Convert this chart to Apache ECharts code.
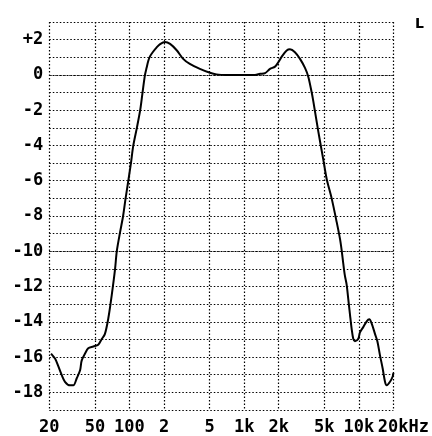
<!DOCTYPE html>
<html><head><meta charset="utf-8">
<script src="https://cdn.jsdelivr.net/npm/echarts@6/dist/echarts.min.js"></script>
<style>html,body{margin:0;padding:0;background:#fff}#c{width:432px;height:436px}</style>
</head><body><div id="c"></div>
<script>
const freqHz = [20.7,22.5,23.9,25.6,27.4,30.3,32.4,34.7,37.1,38.3,41,43.7,48.4,53.4,57,61,65.4,70,74.9,77.5,82.9,88,92.5,97.7,103,108,116,124,130,136.5,141,146,151,160,172,185,204,226,258,294,336,411,503,574,700,1000,1242,1376,1520,1680,1858,1986,2126,2348,2508,2772,3068,3390,3622,3880,4008,4427,4896,5240,5790,6408,6846,7080,7312,7560,7828,8080,8370,8650,8934,9240,9880,10220,10920,11700,12330,12940,13840,14490,15280,16140,16900,17480,18680,19720,20000];
const levelDb = [-15.8,-16.1,-16.5,-17.0,-17.4,-17.6,-17.6,-17.2,-16.75,-16.2,-15.8,-15.5,-15.4,-15.3,-15.0,-14.7,-13.8,-12.5,-11.0,-10.0,-8.9,-8.0,-7.0,-6.0,-5.0,-4.0,-3.0,-2.0,-1.0,0,0.4,0.8,1.05,1.3,1.55,1.75,1.87,1.76,1.4,0.91,0.62,0.34,0.12,0.03,0,0,0,0.06,0.1,0.34,0.47,0.72,1.04,1.38,1.45,1.29,0.91,0.4,-0.1,-1.0,-1.5,-3.2,-4.8,-5.9,-7.0,-8.35,-9.3,-9.95,-10.7,-11.4,-11.9,-12.7,-13.6,-14.4,-14.96,-15.1,-14.96,-14.6,-14.3,-13.97,-13.86,-14.1,-14.7,-15.1,-15.9,-16.66,-17.4,-17.6,-17.4,-17.1,-16.9];
const xTickValues = [20,50,100,200,500,1000,2000,5000,10000,20000];
const xTickLabels = ['20','50','100','2','5','1k','2k','5k','10k','20kHz'];
const refLinesDb = [0,-10];
const channelLabel = 'L';

const chart = echarts.init(document.getElementById('c'), null, {renderer:'canvas'});
const labelFont = {fontFamily:'DejaVu Sans Mono', fontWeight:'bold', fontSize:17, color:'#000'};
const dotted = {color:'#000', width:1.2, type:[1.5,2]};
function nearestIdx(v){
  let best=0, bd=Infinity;
  xTickValues.forEach((t,i)=>{const d=Math.abs(Math.log10(t)-Math.log10(v)); if(d<bd){bd=d;best=i;}});
  return best;
}
chart.setOption({
  animation:false,
  backgroundColor:'#fff',
  title:{text:channelLabel, left:410, top:12, textStyle:{fontFamily:'DejaVu Sans', fontWeight:'bold', fontSize:14, color:'#000'}},
  grid:{left:49.3, right:38.6, top:22, bottom:26, containLabel:false},
  xAxis:{
    type:'log', logBase:10, min:20, max:20000,
    axisLine:{show:false},
    axisTick:{show:false, customValues:xTickValues},
    axisLabel:Object.assign({}, labelFont, {
      customValues:xTickValues, margin:9,
      formatter:function(v){const i=nearestIdx(v); const s=xTickLabels[i]; return i===xTickLabels.length-1?'{last|'+s+'}':s;},
      rich:{last:Object.assign({}, labelFont, {padding:[0,0,0,20]})}
    }),
    splitLine:{show:true, lineStyle:dotted}
  },
  yAxis:{
    type:'value', min:-19, max:3, interval:1,
    axisLine:{show:false}, axisTick:{show:false},
    axisLabel:Object.assign({}, labelFont, {
      margin:6,
      formatter:function(v){ if(Math.round(v)%2!==0) return ''; return v>0?'+'+v:String(v); }
    }),
    splitLine:{show:true, lineStyle:dotted}
  },
  series:[{
    type:'line',
    data:freqHz.map((f,i)=>[f, levelDb[i]]),
    showSymbol:false, smooth:0.3,
    lineStyle:{color:'#000', width:2},
    markLine:{
      silent:true, symbol:'none', label:{show:false},
      lineStyle:{color:'#000', width:1, type:[1,1]},
      data:refLinesDb.map(v=>({yAxis:v}))
    }
  }]
});
</script></body></html>
